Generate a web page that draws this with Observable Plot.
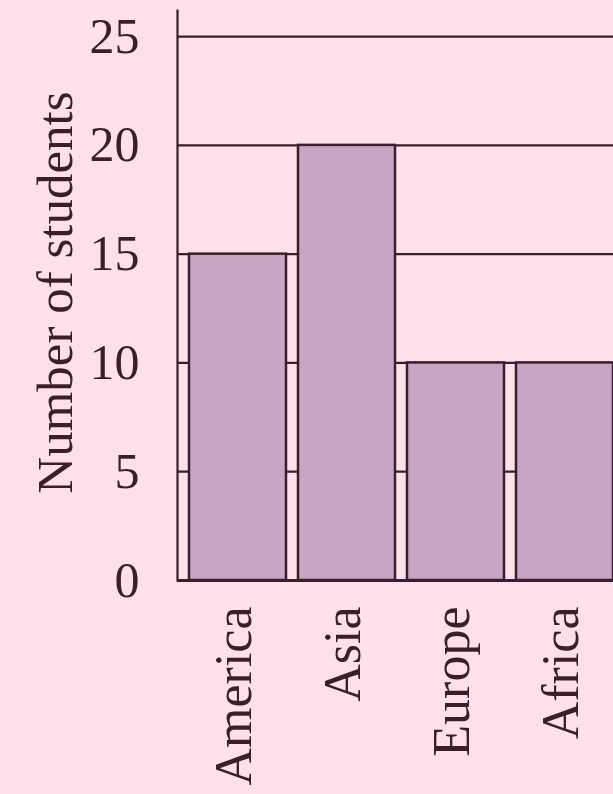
<!DOCTYPE html>
<html>
<head>
<meta charset="utf-8">
<script src="https://cdn.jsdelivr.net/npm/d3@7"></script>
<script src="https://cdn.jsdelivr.net/npm/@observablehq/plot@0.6"></script>
<style>
  html, body { margin: 0; padding: 0; background: #fce0ea; overflow: hidden; }
  #chart { width: 613px; height: 794px; overflow: hidden; }
</style>
</head>
<body>
<div id="chart"></div>
<script>
const continents = ["America", "Asia", "Europe", "Africa"];
const students = [15, 20, 10, 10];
const yTicks = [0, 5, 10, 15, 20, 25];
const gridValues = [5, 10, 15, 20, 25];
const yLabel = "Number of students";

const data = continents.map((c, i) => ({continent: c, students: students[i]}));

const ink = "#3a1e2c";
const chart = Plot.plot({
  width: 613,
  height: 794,
  marginLeft: 177,
  marginRight: 0,
  marginTop: 10,
  marginBottom: 214,
  style: {background: "#fce0ea", fontFamily: "'Liberation Serif', 'Times New Roman', serif", color: ink, overflow: "hidden"},
  x: {domain: continents, range: [177, 625], paddingInner: 0.11, paddingOuter: 0.11},
  y: {domain: [0, 26.2]},
  marks: [
    Plot.ruleY(gridValues, {stroke: ink, strokeWidth: 2.2}),
    Plot.barY(data, {x: "continent", y: "students", fill: "#c6a6c4", stroke: ink, strokeWidth: 2.5}),
    Plot.ruleY([0], {stroke: ink, strokeWidth: 3}),
    Plot.frame({anchor: "left", stroke: ink, strokeWidth: 2.2}),
    Plot.axisY({ticks: yTicks, tickSize: 0, tickPadding: 38, fontSize: 50, label: null}),
    Plot.axisX({tickRotate: -90, tickSize: 0, tickPadding: 26, fontSize: 52, label: null, dx: -4}),
    Plot.text([yLabel], {frameAnchor: "left", textAnchor: "middle", dx: -122, dy: -3, rotate: -90, fontSize: 51, fill: ink})
  ]
});
document.getElementById("chart").appendChild(chart);
</script>
</body>
</html>
